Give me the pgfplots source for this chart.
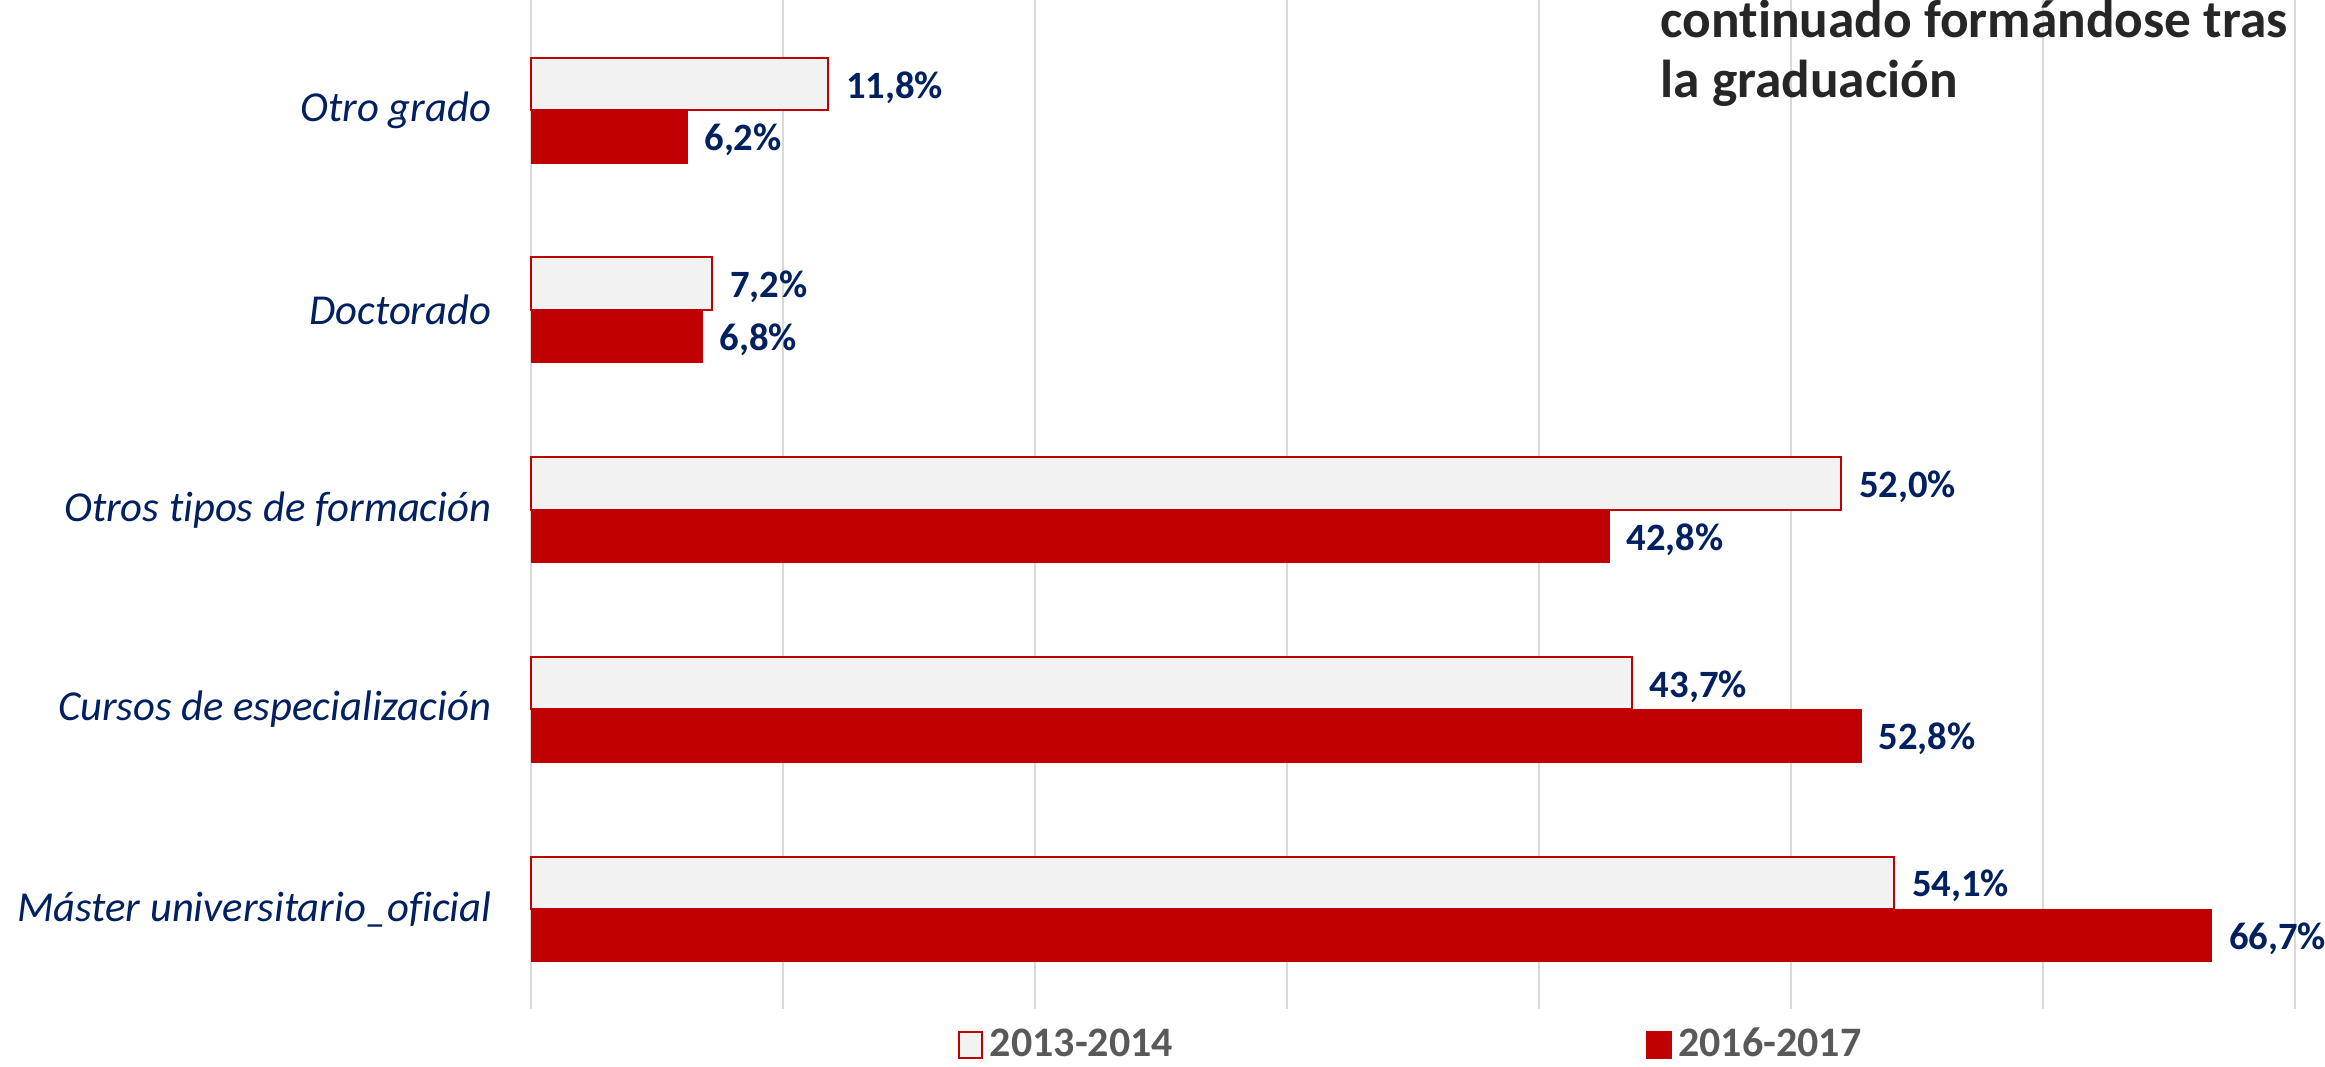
\documentclass[border=0pt]{standalone}
\usepackage{pgfplots}
\pgfplotsset{compat=1.18}
\usepackage{fontspec}
\setmainfont{Carlito}[Ligatures=NoCommon]
\definecolor{barred}{HTML}{C00000}
\definecolor{barlight}{HTML}{F2F2F2}
\definecolor{navy}{HTML}{002060}
\definecolor{legendgray}{HTML}{595959}
\definecolor{titlegray}{HTML}{262626}
\definecolor{gridgray}{HTML}{D9D9D9}
\begin{document}
\begin{tikzpicture}
\begin{axis}[
  at={(159.3pt,17.1pt)}, anchor=south west,
  scale only axis, width=529.2pt, height=302.7pt,
  xbar, bar width=15.8pt,
  xmin=0, xmax=70, ymin=-0.5, ymax=4.553,
  xtick={0,10,...,70}, xticklabels={},
  xmajorgrids, major grid style={gridgray, line width=0.6pt},
  ytick={0,1,2,3,4},
  yticklabels={Máster universitario\_oficial, Cursos de especialización\hspace{3pt}, Otros tipos de formación, Doctorado, Otro grado},
  yticklabel style={font=\fontsize{12.8}{15}\selectfont\itshape, text=navy, inner sep=0pt, xshift=-11.7pt},
  axis line style={draw=none},
  major tick length=0pt,
  tick style={draw=none},
  clip=false,
  point meta=explicit symbolic,
  nodes near coords,
  nodes near coords style={font=\fontsize{11.6}{13}\selectfont\bfseries, text=navy, anchor=west, inner sep=0pt, xshift=5pt, yshift=-1pt},
  legend columns=2,
  legend style={draw=none, fill=none, at={(0.5,-0.0356)}, anchor=center,
    font=\fontsize{12.6}{15}\selectfont\bfseries, text=legendgray,
    /tikz/every even column/.append style={column sep=140pt}},
  legend image code/.code={\draw[#1, line width=0.6pt] (-1pt,-3.8pt) rectangle (6pt,3.8pt);},
]
\addplot[fill=barlight, draw=barred, line width=0.6pt, bar shift=7.9pt] coordinates {
  (54.1,0) [54,1\%]
  (43.7,1) [43,7\%]
  (52.0,2) [52,0\%]
  (7.2,3)  [7,2\%]
  (11.8,4) [11,8\%]
};
\addlegendentry{2013-2014}
\addplot[fill=barred, draw=barred, line width=0.3pt, bar shift=-7.9pt] coordinates {
  (66.7,0) [66,7\%]
  (52.8,1) [52,8\%]
  (42.8,2) [42,8\%]
  (6.8,3)  [6,8\%]
  (6.2,4)  [6,2\%]
};
\addlegendentry{2016-2017}
\end{axis}
\node[anchor=base west, inner sep=0pt, font=\fontsize{16}{19}\selectfont\bfseries, text=titlegray] at (498pt,308.7pt) {continuado formándose tras};
\node[anchor=base west, inner sep=0pt, font=\fontsize{16}{19}\selectfont\bfseries, text=titlegray] at (498pt,290.7pt) {la graduación};
\pgfresetboundingbox
\useasboundingbox (0,0) rectangle (697.5pt,319.8pt);
\end{tikzpicture}
\end{document}
